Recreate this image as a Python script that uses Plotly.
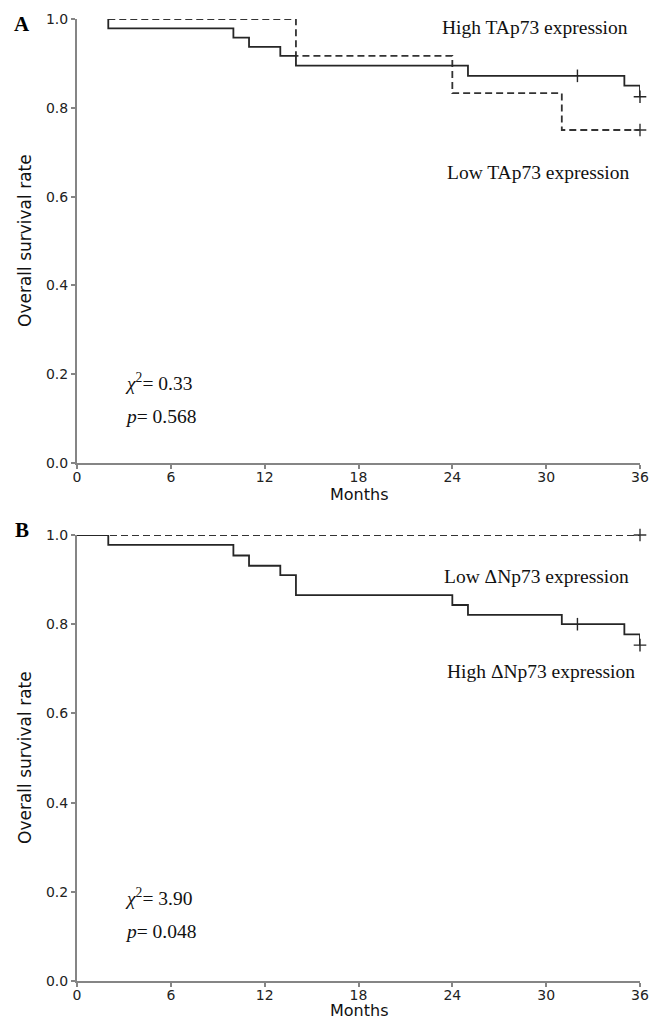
import plotly.graph_objects as go

# ---------------- data ----------------
months_ticks = [0, 6, 12, 18, 24, 30, 36]
rate_ticks = [0.0, 0.2, 0.4, 0.6, 0.8, 1.0]

# Panel A
a_high_t = [2, 2, 10, 11, 13, 14, 25, 35, 36]
a_high_s = [1.0, 0.979, 0.958, 0.937, 0.917, 0.895, 0.872, 0.850, 0.825]
a_high_cens_t = [32, 36]
a_high_cens_s = [0.872, 0.825]

a_low_t = [2, 14, 24, 31, 36]
a_low_s = [1.0, 0.917, 0.833, 0.75, 0.75]
a_low_cens_t = [36]
a_low_cens_s = [0.75]

# Panel B
b_high_t = [0, 2, 10, 11, 13, 14, 24, 25, 31, 35, 36]
b_high_s = [1.0, 0.978, 0.954, 0.931, 0.910, 0.865, 0.843, 0.821, 0.800, 0.777, 0.753]
b_high_cens_t = [32, 36]
b_high_cens_s = [0.800, 0.753]

b_low_t = [0, 36]
b_low_s = [1.0, 1.0]
b_low_cens_t = [36]
b_low_cens_s = [1.0]

W, H = 662, 1019
OFF = 8  # page body margin
SOLID = "#262626"
DASHC = "#333333"
AXC = "#858585"

fig = go.Figure()

def add_curve(t, s, xa, ya, dash, color):
    fig.add_trace(go.Scatter(x=t, y=s, mode="lines", line=dict(shape="hv", color=color, width=1.8, dash=dash),
                             xaxis=xa, yaxis=ya, cliponaxis=False, showlegend=False, hoverinfo="skip"))

def add_cens(t, s, xa, ya, color):
    syms = ["cross-thin" if v >= 36 else "line-ns" for v in t]
    fig.add_trace(go.Scatter(x=t, y=s, mode="markers",
                             marker=dict(symbol=syms, size=9, color=color, line=dict(color=color, width=1.4)),
                             xaxis=xa, yaxis=ya, cliponaxis=False, showlegend=False, hoverinfo="skip"))

add_curve(a_low_t, a_low_s, "x", "y", "7px,4px", DASHC)
add_curve(a_high_t, a_high_s, "x", "y", "solid", SOLID)
add_cens(a_low_cens_t, a_low_cens_s, "x", "y", DASHC)
add_cens(a_high_cens_t, a_high_cens_s, "x", "y", SOLID)

add_curve(b_low_t, b_low_s, "x2", "y2", "7px,4px", DASHC)
add_curve(b_high_t, b_high_s, "x2", "y2", "solid", SOLID)
add_cens(b_low_cens_t, b_low_cens_s, "x2", "y2", DASHC)
add_cens(b_high_cens_t, b_high_cens_s, "x2", "y2", SOLID)

def px_x(p):
    return (p - OFF) / W
def px_y(p):
    return 1 - (p - OFF) / H

xdom = [px_x(77), px_x(640)]
ydomA = [px_y(463), px_y(19)]
ydomB = [px_y(981), px_y(535)]

tickfont = dict(family="DejaVu Sans", size=14, color="#222")
def xax(anchor):
    return dict(domain=xdom, range=[0, 36], anchor=anchor, tickvals=months_ticks, ticktext=[str(v) for v in months_ticks],
                showline=True, linecolor=AXC, linewidth=2, ticks="outside", ticklen=4, tickcolor=AXC, tickwidth=1.5,
                showgrid=False, zeroline=False, tickfont=tickfont, automargin=False, ticklabelstandoff=-4)
def yax(dom, anchor):
    return dict(domain=dom, range=[0, 1], anchor=anchor, tickvals=rate_ticks, ticktext=[f"{v:.1f}" for v in rate_ticks],
                showline=True, linecolor=AXC, linewidth=2, ticks="outside", ticklen=4, tickcolor=AXC, tickwidth=1.5,
                showgrid=False, zeroline=False, tickfont=tickfont, automargin=False)

serif = dict(family="Liberation Serif", size=19.5, color="#111")
sans_t = dict(family="DejaVu Sans", size=16, color="#111")
sans_y = dict(family="DejaVu Sans", size=17, color="#111")

def pap(text, xp, yp, font, **kw):
    return dict(text=text, x=px_x(xp), y=px_y(yp), xref="paper", yref="paper", showarrow=False,
                xanchor="center", yanchor="middle", font=font, **kw)

annotations = [
    pap("<b>A</b>", 22, 24, dict(family="Liberation Serif", size=21, color="#000")),
    pap("<b>B</b>", 22, 530, dict(family="Liberation Serif", size=21, color="#000")),
    pap("Months", 359, 494, sans_t),
    pap("Months", 359, 1010, sans_t),
    pap("Overall survival rate", 25, 241, sans_y, textangle=-90),
    pap("Overall survival rate", 25, 758, sans_y, textangle=-90),
    dict(text="High TAp73 expression", x=29.3, y=0.98, xref="x", yref="y", showarrow=False, font=serif),
    dict(text="Low TAp73 expression", x=29.5, y=0.655, xref="x", yref="y", showarrow=False, font=serif),
    dict(text="<i>χ</i><sup>2</sup>= 0.33", x=2.94, y=0.182, xref="x", yref="y", xanchor="left", showarrow=False, font=serif),
    dict(text="<i>p</i>= 0.568", x=2.94, y=0.104, xref="x", yref="y", xanchor="left", showarrow=False, font=serif),
    dict(text="Low ΔNp73 expression", x=29.35, y=0.906, xref="x2", yref="y2", showarrow=False, font=serif),
    dict(text="High ΔNp73 expression", x=29.7, y=0.693, xref="x2", yref="y2", showarrow=False, font=serif),
    dict(text="<i>χ</i><sup>2</sup>= 3.90", x=2.94, y=0.188, xref="x2", yref="y2", xanchor="left", showarrow=False, font=serif),
    dict(text="<i>p</i>= 0.048", x=2.94, y=0.110, xref="x2", yref="y2", xanchor="left", showarrow=False, font=serif),
]

fig.update_layout(
    width=W, height=H, margin=dict(l=0, r=0, t=0, b=0),
    paper_bgcolor="white", plot_bgcolor="white",
    xaxis=xax("y"), yaxis=yax(ydomA, "x"),
    xaxis2=xax("y2"), yaxis2=yax(ydomB, "x2"),
    annotations=annotations, showlegend=False,
)

fig.write_html("out.html")
